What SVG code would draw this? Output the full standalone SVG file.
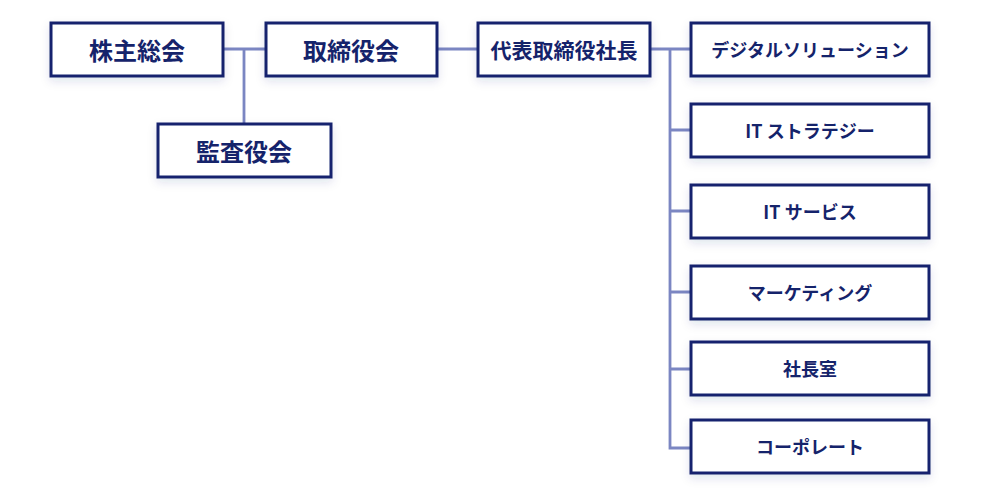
<svg xmlns="http://www.w3.org/2000/svg" width="1000" height="498" viewBox="0 0 1000 498">
<defs>
<filter id="sh" x="-20%" y="-30%" width="140%" height="170%">
<feDropShadow dx="0" dy="4" stdDeviation="5" flood-color="#1a2a6c" flood-opacity="0.12"/>
</filter>
<style>
.box{fill:#fff;stroke:#13236e;stroke-width:3;filter:url(#sh)}
.t{font-family:"Noto Sans CJK JP","Noto Sans",sans-serif;font-weight:700;fill:#15236b;text-anchor:middle;dominant-baseline:central}
.l{font-size:24px}
.m{font-size:21px}
.s{font-size:18px}
.c{stroke:#7b86c2;stroke-width:2.8;fill:none}
</style>
</defs>
<rect width="1000" height="498" fill="#fff"/>
<g id="connectors">
<path class="c" d="M224 49H265M244 49V123M437 49H477M651 49H690M670 49V448H690M670 130H690M670 211H690M670 292H690M670 369H690"/>
</g>
<g id="n1"><rect class="box" x="51" y="23" width="172" height="53"/><text class="t l" x="137" y="49">株主総会</text></g>
<g id="n2"><rect class="box" x="266" y="23" width="171" height="53"/><text class="t l" x="351" y="49">取締役会</text></g>
<g id="n3"><rect class="box" x="158" y="124" width="173" height="53"/><text class="t l" x="244" y="150">監査役会</text></g>
<g id="n4"><rect class="box" x="478" y="23" width="172" height="53"/><text class="t m" x="564" y="49">代表取締役社長</text></g>
<g id="n5"><rect class="box" x="691" y="23" width="238" height="53"/><text class="t s" x="810" y="49">デジタルソリューション</text></g>
<g id="n6"><rect class="box" x="691" y="104" width="238" height="53"/><text class="t s" x="810" y="130">IT ストラテジー</text></g>
<g id="n7"><rect class="box" x="691" y="185" width="238" height="53"/><text class="t s" x="810" y="211">IT サービス</text></g>
<g id="n8"><rect class="box" x="691" y="266" width="238" height="53"/><text class="t s" x="810" y="292">マーケティング</text></g>
<g id="n9"><rect class="box" x="691" y="342" width="238" height="53"/><text class="t s" x="810" y="368">社長室</text></g>
<g id="n10"><rect class="box" x="691" y="420" width="238" height="53"/><text class="t s" x="810" y="446">コーポレート</text></g>
</svg>
